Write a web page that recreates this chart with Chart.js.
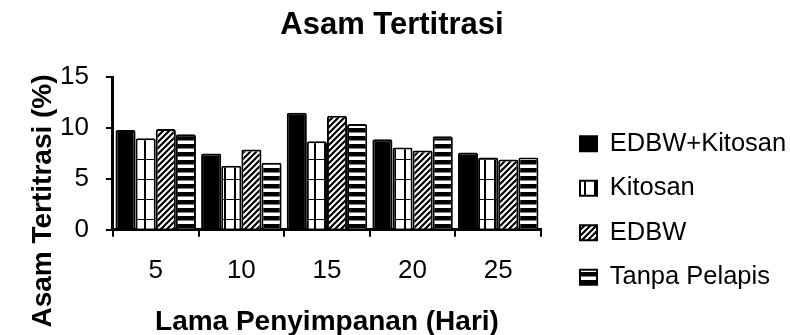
<!DOCTYPE html>
<html>
<head>
<meta charset="utf-8">
<script src="https://cdn.jsdelivr.net/npm/chart.js@4"></script>
<style>
	html, body { margin: 0; padding: 0; background: #fff; }
	#wrap { width: 790px; height: 335px; position: relative; }
</style>
</head>
<body>
<div id="wrap"><canvas id="chart-asam"></canvas></div>
<script>
// data
const DAYS = ["5", "10", "15", "20", "25"];
const EDBW_KITOSAN = [9.8, 7.5, 11.5, 8.9, 7.6];
const KITOSAN = [9.0, 6.3, 8.7, 8.1, 7.1];
const EDBW = [9.9, 7.9, 11.2, 7.8, 6.9];
const TANPA_PELAPIS = [9.4, 6.6, 10.4, 9.2, 7.1];
const Y_TICKS = [0, 5, 10, 15];

const FONT = "'Liberation Sans', Arial, sans-serif";
const CANVAS = document.getElementById("chart-asam");
const CTX = CANVAS.getContext("2d");

const makePattern = (w, h, draw) => {
	const c = document.createElement("canvas");
	c.width = w;
	c.height = h;
	const g = c.getContext("2d");
	g.fillStyle = "#fff";
	g.fillRect(0, 0, w, h);
	g.fillStyle = "#000";
	g.strokeStyle = "#000";
	draw(g);
	return CTX.createPattern(c, "repeat");
};

// white with vertical lines + thin horizontal lines
const PAT_KITOSAN = makePattern(10, 20, (g) => {
	g.fillRect(4, 0, 2, 20);
	g.fillRect(0, 19, 10, 1);
});
// diagonal "/" stripes
const PAT_EDBW = makePattern(6, 6, (g) => {
	g.lineWidth = 2.2;
	g.beginPath();
	g.moveTo(-1, 7); g.lineTo(7, -1);
	g.moveTo(-4, 4); g.lineTo(4, -4);
	g.moveTo(2, 10); g.lineTo(10, 2);
	g.stroke();
});
// horizontal stripes
const PAT_TANPA = makePattern(4, 8, (g) => {
	g.fillRect(0, 0, 4, 4.5);
});

const barSet = (label, data, fill) => ({
	label: label,
	data: data,
	backgroundColor: fill,
	borderColor: "#000",
	borderWidth: 2,
	borderRadius: 2,
	borderSkipped: "bottom",
	categoryPercentage: 0.94,
	barPercentage: 1,
});

// axis titles are drawn by hand, the reference ones are not centred on the plot
const axisTitles = {
	id: "axisTitles",
	afterDraw: (chart) => {
		const ctx = chart.ctx;
		const area = chart.chartArea;
		ctx.save();
		ctx.fillStyle = "#000";
		ctx.font = `bold 28px ${FONT}`;
		ctx.textAlign = "center";
		ctx.textBaseline = "middle";
		ctx.fillText("Lama Penyimpanan (Hari)", (area.left + area.right) / 2, 322);
		ctx.translate(43, 201);
		ctx.rotate(-Math.PI / 2);
		ctx.fillText("Asam Tertitrasi (%)", 0, 0);
		ctx.restore();
	},
};

// park the legend where the reference has it
const legendSpot = {
	id: "legendSpot",
	afterLayout: (chart) => {
		const lg = chart.legend;
		lg.left = 561;
		lg.right = 790;
		lg.top = 112;
		lg.bottom = 335;
	},
};

const CHART_CONFIG = {
	type: "bar",
	data: {
		labels: DAYS,
		datasets: [
			barSet("EDBW+Kitosan", EDBW_KITOSAN, "#000"),
			barSet("Kitosan", KITOSAN, PAT_KITOSAN),
			barSet("EDBW", EDBW, PAT_EDBW),
			barSet("Tanpa Pelapis", TANPA_PELAPIS, PAT_TANPA),
		],
	},
	options: {
		responsive: true,
		maintainAspectRatio: false,
		animation: false,
		layout: {
			padding: { left: 43, right: 49, top: 0, bottom: 31 },
		},
		plugins: {
			title: {
				display: true,
				text: "Asam Tertitrasi",
				color: "#000",
				font: { family: FONT, size: 31, weight: "bold" },
				padding: { top: 7, bottom: 33 },
			},
			legend: {
				position: "right",
				align: "start",
				maxWidth: 200,
				labels: {
					color: "#000",
					font: { family: FONT, size: 25.5 },
					boxWidth: 17,
					boxHeight: 15,
					padding: 19,
				},
			},
			tooltip: { enabled: false },
		},
		scales: {
			x: {
				grid: {
					offset: true,
					drawOnChartArea: false,
					drawTicks: true,
					tickLength: 7,
					color: "#000",
					lineWidth: 2,
				},
				border: { color: "#000", width: 3 },
				ticks: {
					color: "#000",
					font: { family: FONT, size: 26 },
					padding: 18,
				},
			},
			y: {
				min: 0,
				max: 15,
				afterBuildTicks: (scale) => {
					scale.ticks = Y_TICKS.map((v) => ({ value: v }));
				},
				grid: {
					drawOnChartArea: false,
					drawTicks: true,
					tickLength: 7,
					color: "#000",
					lineWidth: 2,
				},
				border: { color: "#000", width: 3 },
				ticks: {
					color: "#000",
					font: { family: FONT, size: 26 },
					padding: 17,
				},
			},
		},
	},
	plugins: [axisTitles, legendSpot],
};

new Chart(CANVAS, CHART_CONFIG);
</script>
</body>
</html>
